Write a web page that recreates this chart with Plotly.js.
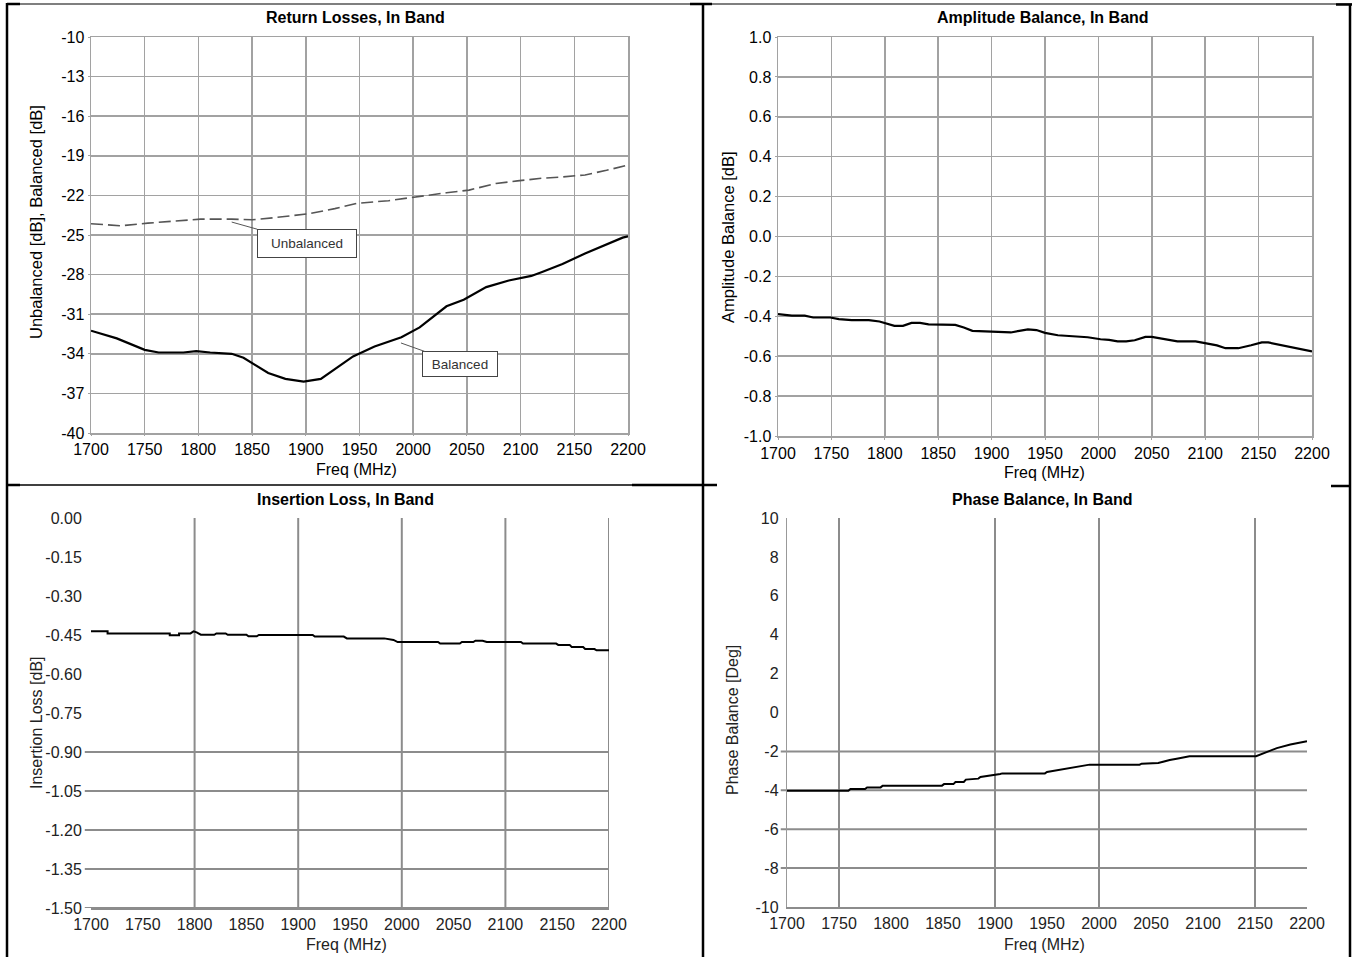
<!DOCTYPE html>
<html>
<head>
<meta charset="utf-8">
<script src="https://cdn.plot.ly/plotly-3.0.1.min.js"></script>
<style>html,body{margin:0;padding:0;background:#fff;}#chart{width:1353px;height:957px;}</style>
</head>
<body>
<div id="chart"></div>
<script>
// ---------- data ----------
const freqTicks = [1700,1750,1800,1850,1900,1950,2000,2050,2100,2150,2200];
const freqTickText = ['1700','1750','1800','1850','1900','1950','2000','2050','2100','2150','2200'];

// Return losses
const rlTicks = [-10,-13,-16,-19,-22,-25,-28,-31,-34,-37,-40];
const rlTickText = ['-10','-13','-16','-19','-22','-25','-28','-31','-34','-37','-40'];
const balFreq = [1700,1724,1750,1763,1786,1798,1811,1831,1842,1852,1865,1881,1898,1914,1931,1944,1964,1989,2006,2031,2047,2068,2089,2110,2120,2139,2160,2180,2195,2200];
const balanced = [-32.25,-32.83,-33.7,-33.9,-33.9,-33.8,-33.9,-34.0,-34.3,-34.8,-35.45,-35.9,-36.1,-35.9,-34.9,-34.2,-33.45,-32.75,-32.0,-30.4,-29.9,-28.95,-28.45,-28.1,-27.8,-27.2,-26.4,-25.7,-25.2,-25.1];
const unbFreq = [1700,1728,1753,1782,1802,1831,1850,1869,1902,1927,1948,1977,2002,2031,2052,2077,2097,2120,2139,2160,2180,2200];
const unbalanced = [-24.15,-24.3,-24.1,-23.9,-23.8,-23.8,-23.85,-23.7,-23.4,-23.0,-22.6,-22.4,-22.1,-21.8,-21.6,-21.1,-20.9,-20.7,-20.6,-20.45,-20.1,-19.7];

// Amplitude balance
const abTicks = [1.0,0.8,0.6,0.4,0.2,0.0,-0.2,-0.4,-0.6,-0.8,-1.0];
const abTickText = ['1.0','0.8','0.6','0.4','0.2','0.0','-0.2','-0.4','-0.6','-0.8','-1.0'];
const abFreq = [1700,1713,1725,1733,1749,1757,1769,1785,1795,1801,1809,1817,1825,1833,1841,1866,1874,1882,1898,1906,1918,1926,1934,1942,1950,1962,1978,1990,2002,2010,2018,2026,2034,2044,2050,2062,2074,2091,2103,2111,2119,2131,2143,2153,2159,2167,2179,2191,2200];
const ampBalance = [-0.389,-0.397,-0.397,-0.406,-0.406,-0.414,-0.419,-0.419,-0.426,-0.434,-0.448,-0.448,-0.433,-0.433,-0.44,-0.443,-0.456,-0.473,-0.478,-0.481,-0.481,-0.473,-0.466,-0.469,-0.483,-0.495,-0.501,-0.505,-0.515,-0.518,-0.526,-0.526,-0.52,-0.503,-0.503,-0.515,-0.526,-0.526,-0.536,-0.546,-0.56,-0.56,-0.545,-0.531,-0.531,-0.54,-0.556,-0.566,-0.576];

// Insertion loss
const ilTicks = [0,-0.15,-0.30,-0.45,-0.60,-0.75,-0.90,-1.05,-1.20,-1.35,-1.50];
const ilTickText = ['0.00','-0.15','-0.30','-0.45','-0.60','-0.75','-0.90','-1.05','-1.20','-1.35','-1.50'];
const ilGridFreqs = [1800,1900,2000,2100,2200];
const ilGridVals = [-0.90,-1.05,-1.20,-1.35,-1.50];
const ilFreq = [1700,1716,1716,1776,1776,1785,1785,1796,1799,1802,1806,1819,1821,1830,1832,1850,1852,1860,1862,1914,1916,1944,1947,1983,1992,1996,2035,2037,2056,2058,2069,2071,2078,2082,2115,2117,2149,2151,2162,2164,2175,2177,2186,2188,2200];
const insLoss = [-0.436,-0.436,-0.444,-0.444,-0.451,-0.451,-0.444,-0.444,-0.436,-0.440,-0.449,-0.449,-0.444,-0.444,-0.449,-0.449,-0.455,-0.455,-0.450,-0.450,-0.456,-0.456,-0.463,-0.463,-0.469,-0.477,-0.477,-0.483,-0.483,-0.477,-0.477,-0.472,-0.472,-0.477,-0.477,-0.483,-0.483,-0.488,-0.488,-0.496,-0.496,-0.504,-0.504,-0.509,-0.509];

// Phase balance
const pbTicks = [10,8,6,4,2,0,-2,-4,-6,-8,-10];
const pbTickText = ['10','8','6','4','2','0','-2','-4','-6','-8','-10'];
const pbGridFreqs = [1750,1900,2000,2150];
const pbGridVals = [-2,-4,-6,-8];
const pbFreq = [1700,1759,1761,1775,1777,1790,1792,1849,1851,1860,1862,1870,1872,1884,1886,1899,1905,1907,1948,1950,1960,1971,1981,1991,2039,2041,2057,2062,2068,2076,2087,2151,2155,2163,2171,2184,2200];
const phaseBal = [-4.02,-4.02,-3.93,-3.93,-3.85,-3.85,-3.76,-3.76,-3.68,-3.68,-3.57,-3.57,-3.45,-3.40,-3.32,-3.23,-3.16,-3.13,-3.13,-3.06,-2.97,-2.89,-2.78,-2.68,-2.68,-2.63,-2.60,-2.51,-2.44,-2.36,-2.25,-2.25,-2.17,-2.00,-1.83,-1.65,-1.48];

// ---------- layout helpers ----------
const W = 1353, H = 957;
const px = x => x / W;
const py = y => 1 - y / H;
const FONT = 'Liberation Sans, Arial, sans-serif';

const traces = [
  {x: unbFreq, y: unbalanced, xaxis:'x', yaxis:'y', mode:'lines', name:'Unbalanced',
   line:{color:'#555555', width:1.6, dash:'12px,5px'}},
  {x: balFreq, y: balanced, xaxis:'x', yaxis:'y', mode:'lines', name:'Balanced',
   line:{color:'#000000', width:2.2}},
  {x: abFreq, y: ampBalance, xaxis:'x2', yaxis:'y2', mode:'lines', name:'Amplitude Balance',
   line:{color:'#000000', width:2.2}},
  {x: ilFreq, y: insLoss, xaxis:'x3', yaxis:'y3', mode:'lines', name:'Insertion Loss',
   line:{color:'#000000', width:2}},
  {x: pbFreq, y: phaseBal, xaxis:'x4', yaxis:'y4', mode:'lines', name:'Phase Balance',
   line:{color:'#000000', width:2}}
];

const GRID1 = '#a2a2a2';
const GRID2 = '#8c8c8c';
const tickFont1 = {family: FONT, size: 16, color: '#000'};
const tickFont2 = {family: FONT, size: 16, color: '#222'};

function axTop(domain, range, vals, text, anchor, len) {
  return {domain, range, anchor, tickmode:'array', tickvals: vals, ticktext: text,
    showgrid:true, gridcolor:GRID1, gridwidth:1.5, zeroline:false,
    showline:true, mirror:true, linecolor:GRID1, linewidth:1.5,
    ticks:'outside', ticklen:len, tickcolor:GRID1, tickwidth:1,
    tickfont: tickFont1, fixedrange:true};
}
function axBot(domain, range, vals, text, anchor, showline, len) {
  return {domain, range, anchor, tickmode:'array', tickvals: vals, ticktext: text,
    showgrid:false, zeroline:false,
    showline: showline, linecolor:GRID2, linewidth:2,
    ticks:'outside', ticklen:len, tickcolor:'rgba(0,0,0,0)',
    tickfont: tickFont2, fixedrange:true};
}

const shapes = [];
// partial grids for lower charts
ilGridFreqs.forEach(f => shapes.push({type:'line', xref:'x3', yref:'y3 domain', x0:f, x1:f, y0:0, y1:1, layer:'below', line:{color:GRID2, width:2}}));
ilGridVals.forEach(v => shapes.push({type:'line', xref:'x3 domain', yref:'y3', x0:-0.012, x1:1, y0:v, y1:v, layer:'below', line:{color:GRID2, width:2}}));
pbGridFreqs.forEach(f => shapes.push({type:'line', xref:'x4', yref:'y4 domain', x0:f, x1:f, y0:0, y1:1, layer:'below', line:{color:GRID2, width:2}}));
pbGridVals.forEach(v => shapes.push({type:'line', xref:'x4 domain', yref:'y4', x0:-0.012, x1:1, y0:v, y1:v, layer:'below', line:{color:GRID2, width:2}}));

// page frame
function frame(x0,y0,x1,y1,w){ shapes.push({type:'line', xref:'paper', yref:'paper', x0:px(x0), y0:py(y0), x1:px(x1), y1:py(y1), line:{color:'#000', width:w}}); }
frame(7,4,1352,4,1.2);
frame(7,4,20,4,2.5);
frame(690,4,712,4,2.5);
frame(1336,4.5,1352,4.5,2.5);
frame(7,3,7,957,2.5);
frame(703,3,703,957,2.5);
frame(1350,4,1350,957,2.5);
frame(7,485,632,485,1.5);
frame(632,485,717,485,2.5);
frame(7,485,20,485,2.5);
frame(1331,486,1350,486,2.5);

function label(text, x, y, size, opts) {
  return Object.assign({text, xref:'paper', yref:'paper', x:px(x), y:py(y), showarrow:false,
    xanchor:'center', yanchor:'middle', font:{family:FONT, size, color:'#000'}}, opts || {});
}

const annotations = [
  label('<b>Return Losses, In Band</b>', 355, 17, 16),
  label('<b>Amplitude Balance, In Band</b>', 1043, 18, 16),
  label('<b>Insertion Loss, In Band</b>', 345, 499, 16),
  label('<b>Phase Balance, In Band</b>', 1042, 499, 16),
  label('Freq (MHz)', 356, 469, 16),
  label('Freq (MHz)', 1044, 473, 16),
  label('Freq (MHz)', 346, 944, 16, {font:{family:FONT, size:16, color:'#222'}}),
  label('Freq (MHz)', 1044, 944, 16, {font:{family:FONT, size:16, color:'#222'}}),
  label('Unbalanced [dB], Balanced [dB]', 36, 222, 16.5, {textangle:-90}),
  label('Amplitude Balance [dB]', 728, 237, 16.5, {textangle:-90}),
  label('Insertion Loss [dB]', 36, 723, 16, {textangle:-90, font:{family:FONT, size:16, color:'#222'}}),
  label('Phase Balance [Deg]', 732, 720, 16, {textangle:-90, font:{family:FONT, size:16, color:'#222'}}),
  {text:'Unbalanced', xref:'x', yref:'y', x:1831, y:-24.02, ax:75, ay:21, showarrow:true,
   arrowhead:0, arrowwidth:1, arrowcolor:'#555', bordercolor:'#444', borderwidth:1, borderpad:1,
   bgcolor:'#fff', width:96, height:25, font:{family:FONT, size:13.5, color:'#333'}},
  {text:'Balanced', xref:'x', yref:'y', x:1988.6, y:-33.18, ax:59, ay:21, showarrow:true,
   arrowhead:0, arrowwidth:1, arrowcolor:'#555', bordercolor:'#444', borderwidth:1, borderpad:1,
   bgcolor:'#fff', width:72, height:22, font:{family:FONT, size:13.5, color:'#333'}}
];

const layout = {
  width: W, height: H,
  margin:{l:0, r:0, t:0, b:0},
  paper_bgcolor:'#fff', plot_bgcolor:'rgba(0,0,0,0)',
  showlegend:false,
  font:{family:FONT},
  xaxis: axTop([px(91), px(628)], [1700,2200], freqTicks, freqTickText, 'y', 1),
  yaxis: axTop([py(433), py(37)], [-40,-10], rlTicks, rlTickText, 'x', 2),
  xaxis2: axTop([px(778), px(1312)], [1700,2200], freqTicks, freqTickText, 'y2', 2),
  yaxis2: axTop([py(436), py(37)], [-1,1], abTicks, abTickText, 'x2', 2),
  xaxis3: axBot([px(91), px(609)], [1700,2200], freqTicks, freqTickText, 'y3', true, 1),
  yaxis3: axBot([py(908), py(518)], [-1.5,0], ilTicks, ilTickText, 'x3', false, 5),
  xaxis4: axBot([px(787), px(1307)], [1700,2200], freqTicks, freqTickText, 'y4', true, 1),
  yaxis4: axBot([py(907), py(518)], [-10,10], pbTicks, pbTickText, 'x4', true, 4),
  shapes, annotations
};
layout.yaxis4.linewidth = 1.2;
layout.yaxis4.linecolor = '#999';

Plotly.newPlot('chart', traces, layout, {displayModeBar:false, staticPlot:true});
</script>
</body>
</html>
